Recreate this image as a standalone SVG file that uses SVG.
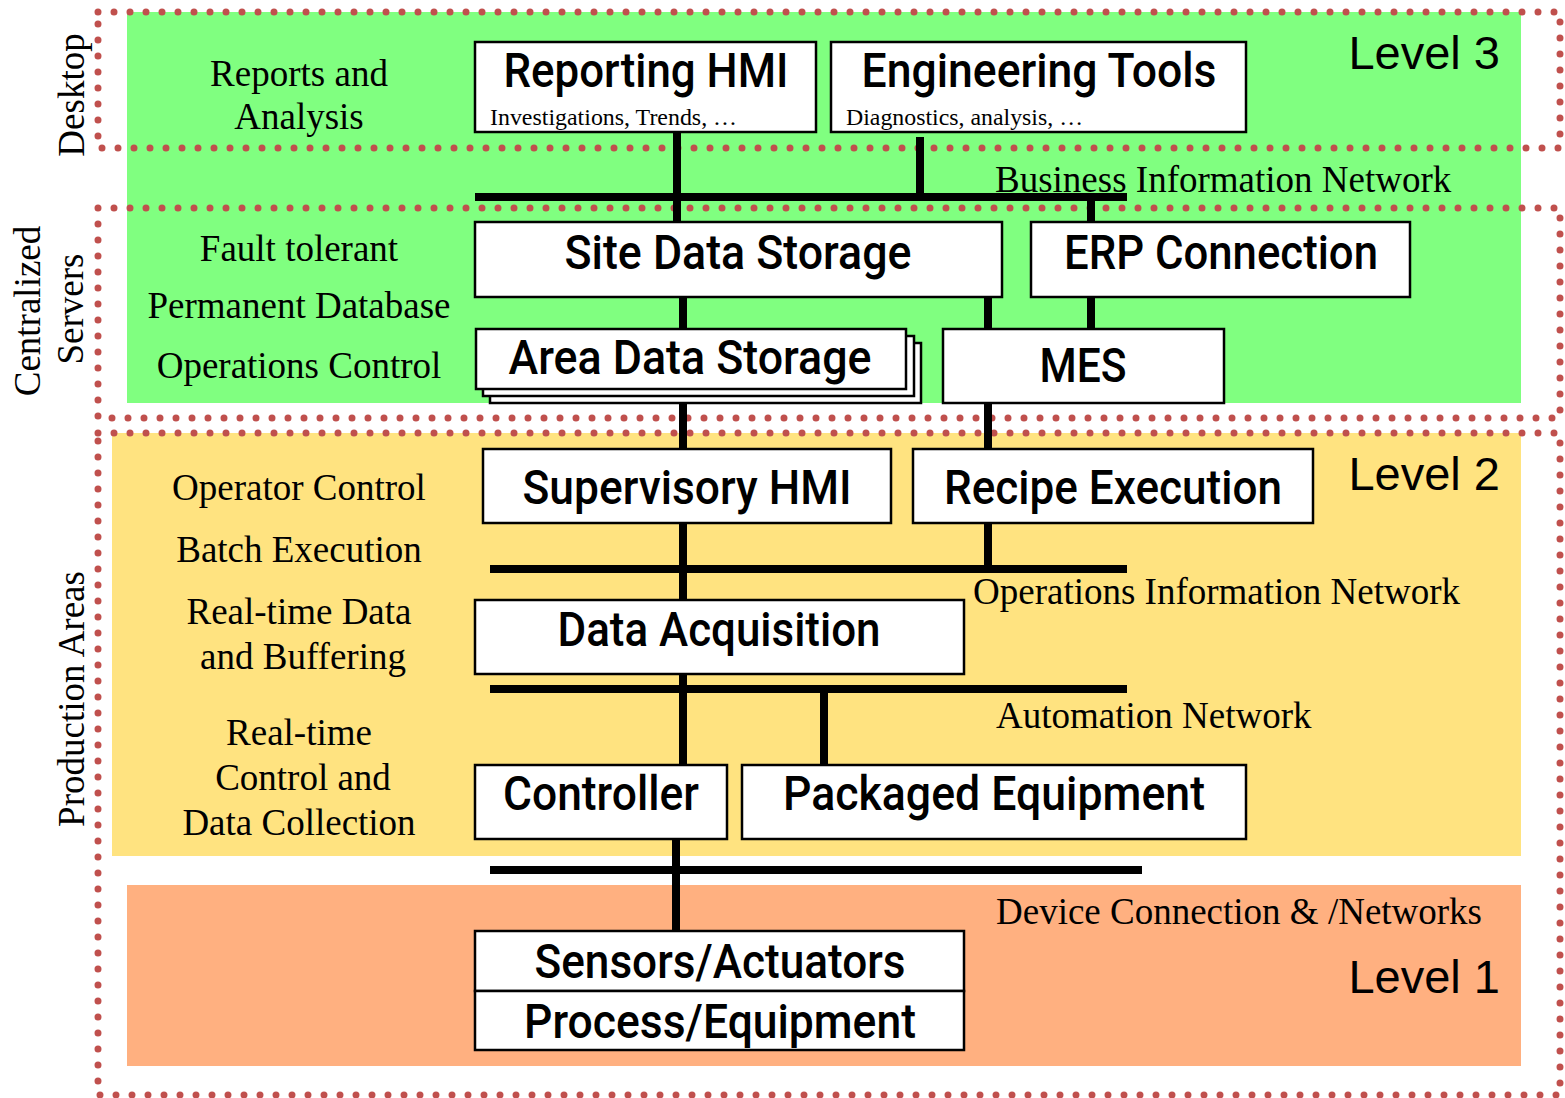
<svg xmlns="http://www.w3.org/2000/svg" width="1565" height="1098" viewBox="0 0 1565 1098">
  <style>
    .frame { fill: none; stroke: #c0504d; stroke-width: 7; stroke-dasharray: 0 16; stroke-linecap: round; }
    .box { fill: #ffffff; stroke: #000000; stroke-width: 2.5; }
    .title { font-family: Roboto, "Liberation Sans", sans-serif; font-weight: 500; font-size: 49px; text-anchor: middle; fill: #000; }
    .sub { font-family: "Liberation Serif", "Times New Roman", serif; font-size: 22.5px; fill: #000; }
    .side { font-family: "Liberation Serif", "Times New Roman", serif; font-size: 37px; text-anchor: middle; fill: #000; }
    .net { font-family: "Liberation Serif", "Times New Roman", serif; font-size: 37px; fill: #000; }
    .level { font-family: "Liberation Sans", Arial, sans-serif; font-size: 47px; text-anchor: end; fill: #000; }
    .bus { stroke: #000000; stroke-width: 8; fill: none; }
  </style>

  <rect x="0" y="0" width="1565" height="1098" fill="#ffffff"/>

  <!-- level bands -->
  <rect x="127" y="12" width="1394" height="391" fill="#80ff80"/>
  <rect x="112" y="433" width="1409" height="423" fill="#ffe380"/>
  <rect x="127" y="885" width="1394" height="181" fill="#ffb080"/>

  <!-- dotted scope frames -->
  <rect class="frame" x="98" y="12" width="1462" height="136"/>
  <rect class="frame" x="98" y="208" width="1462" height="210"/>
  <rect class="frame" x="98" y="433" width="1462" height="662"/>

  <!-- rotated scope names -->
  <text class="side" transform="translate(84,95) rotate(-90)">Desktop</text>
  <text class="side" transform="translate(40,311) rotate(-90)">Centralized</text>
  <text class="side" transform="translate(83,309) rotate(-90)">Servers</text>
  <text class="side" transform="translate(84,699) rotate(-90)">Production Areas</text>

  <!-- function descriptions -->
  <g id="functions">
    <text class="side" x="299" y="86">Reports and</text>
    <text class="side" x="299" y="129">Analysis</text>
    <text class="side" x="299" y="261">Fault tolerant</text>
    <text class="side" x="299" y="318">Permanent Database</text>
    <text class="side" x="299" y="378">Operations Control</text>
    <text class="side" x="299" y="500">Operator Control</text>
    <text class="side" x="299" y="562">Batch Execution</text>
    <text class="side" x="299" y="624">Real-time Data</text>
    <text class="side" x="303" y="669">and Buffering</text>
    <text class="side" x="299" y="745">Real-time</text>
    <text class="side" x="303" y="790">Control and</text>
    <text class="side" x="299" y="835">Data Collection</text>
  </g>

  <!-- network names and levels -->
  <g id="labels">
    <text class="net" x="995" y="192">Business Information Network</text>
    <text class="net" x="973" y="604">Operations Information Network</text>
    <text class="net" x="996" y="728">Automation Network</text>
    <text class="net" x="996" y="924">Device Connection &amp; /Networks</text>
    <text class="level" x="1500" y="69">Level 3</text>
    <text class="level" x="1500" y="490">Level 2</text>
    <text class="level" x="1500" y="993">Level 1</text>
  </g>

  <!-- networks and links -->
  <g id="connectors" class="bus">
    <line x1="475" y1="197" x2="1127" y2="197"/>
    <line x1="490" y1="569" x2="1127" y2="569"/>
    <line x1="490" y1="689" x2="1127" y2="689"/>
    <line x1="490" y1="870" x2="1142" y2="870"/>
    <line x1="677" y1="132" x2="677" y2="222"/>
    <line x1="920" y1="137" x2="920" y2="197"/>
    <line x1="1091" y1="197" x2="1091" y2="222"/>
    <line x1="683" y1="297" x2="683" y2="329"/>
    <line x1="988" y1="297" x2="988" y2="329"/>
    <line x1="1091" y1="297" x2="1091" y2="329"/>
    <line x1="683" y1="403" x2="683" y2="449"/>
    <line x1="988" y1="403" x2="988" y2="449"/>
    <line x1="683" y1="523" x2="683" y2="600"/>
    <line x1="988" y1="523" x2="988" y2="569"/>
    <line x1="683" y1="674" x2="683" y2="765"/>
    <line x1="824" y1="689" x2="824" y2="765"/>
    <line x1="676" y1="839" x2="676" y2="931"/>
  </g>

  <g id="reporting-hmi">
    <rect class="box" x="475" y="42" width="341" height="90"/>
    <text class="title" x="646" y="87" textLength="285" lengthAdjust="spacingAndGlyphs">Reporting HMI</text>
    <text class="sub" x="490" y="125" textLength="247" lengthAdjust="spacingAndGlyphs">Investigations, Trends, …</text>
  </g>

  <g id="engineering-tools">
    <rect class="box" x="831" y="42" width="415" height="90"/>
    <text class="title" x="1039" y="87" textLength="355" lengthAdjust="spacingAndGlyphs">Engineering Tools</text>
    <text class="sub" x="846" y="125" textLength="237" lengthAdjust="spacingAndGlyphs">Diagnostics, analysis, …</text>
  </g>

  <g id="site-data-storage">
    <rect class="box" x="475" y="222" width="527" height="75"/>
    <text class="title" x="738" y="269" textLength="347" lengthAdjust="spacingAndGlyphs">Site Data Storage</text>
  </g>

  <g id="erp-connection">
    <rect class="box" x="1031" y="222" width="379" height="75"/>
    <text class="title" x="1221" y="269" textLength="314" lengthAdjust="spacingAndGlyphs">ERP Connection</text>
  </g>

  <g id="area-data-storage">
    <rect class="box" x="490" y="343" width="431" height="60"/>
    <rect class="box" x="483" y="336" width="431" height="60"/>
    <rect class="box" x="476" y="329" width="430" height="60"/>
    <text class="title" x="690" y="374" textLength="363" lengthAdjust="spacingAndGlyphs">Area Data Storage</text>
  </g>

  <g id="mes">
    <rect class="box" x="943" y="329" width="281" height="74"/>
    <text class="title" x="1083" y="382" textLength="87" lengthAdjust="spacingAndGlyphs">MES</text>
  </g>

  <g id="supervisory-hmi">
    <rect class="box" x="483" y="449" width="408" height="74"/>
    <text class="title" x="687" y="504" textLength="329" lengthAdjust="spacingAndGlyphs">Supervisory HMI</text>
  </g>

  <g id="recipe-execution">
    <rect class="box" x="913" y="449" width="400" height="74"/>
    <text class="title" x="1113" y="504" textLength="338" lengthAdjust="spacingAndGlyphs">Recipe Execution</text>
  </g>

  <g id="data-acquisition">
    <rect class="box" x="475" y="600" width="489" height="74"/>
    <text class="title" x="719" y="646" textLength="323" lengthAdjust="spacingAndGlyphs">Data Acquisition</text>
  </g>

  <g id="controller">
    <rect class="box" x="475" y="765" width="252" height="74"/>
    <text class="title" x="601" y="810" textLength="196" lengthAdjust="spacingAndGlyphs">Controller</text>
  </g>

  <g id="packaged-equipment">
    <rect class="box" x="742" y="765" width="504" height="74"/>
    <text class="title" x="994" y="810" textLength="422" lengthAdjust="spacingAndGlyphs">Packaged Equipment</text>
  </g>

  <g id="sensors-process">
    <rect class="box" x="475" y="931" width="489" height="60"/>
    <rect class="box" x="475" y="991" width="489" height="59"/>
    <text class="title" x="720" y="978" textLength="371" lengthAdjust="spacingAndGlyphs">Sensors/Actuators</text>
    <text class="title" x="720" y="1038" textLength="392" lengthAdjust="spacingAndGlyphs">Process/Equipment</text>
  </g>
</svg>
